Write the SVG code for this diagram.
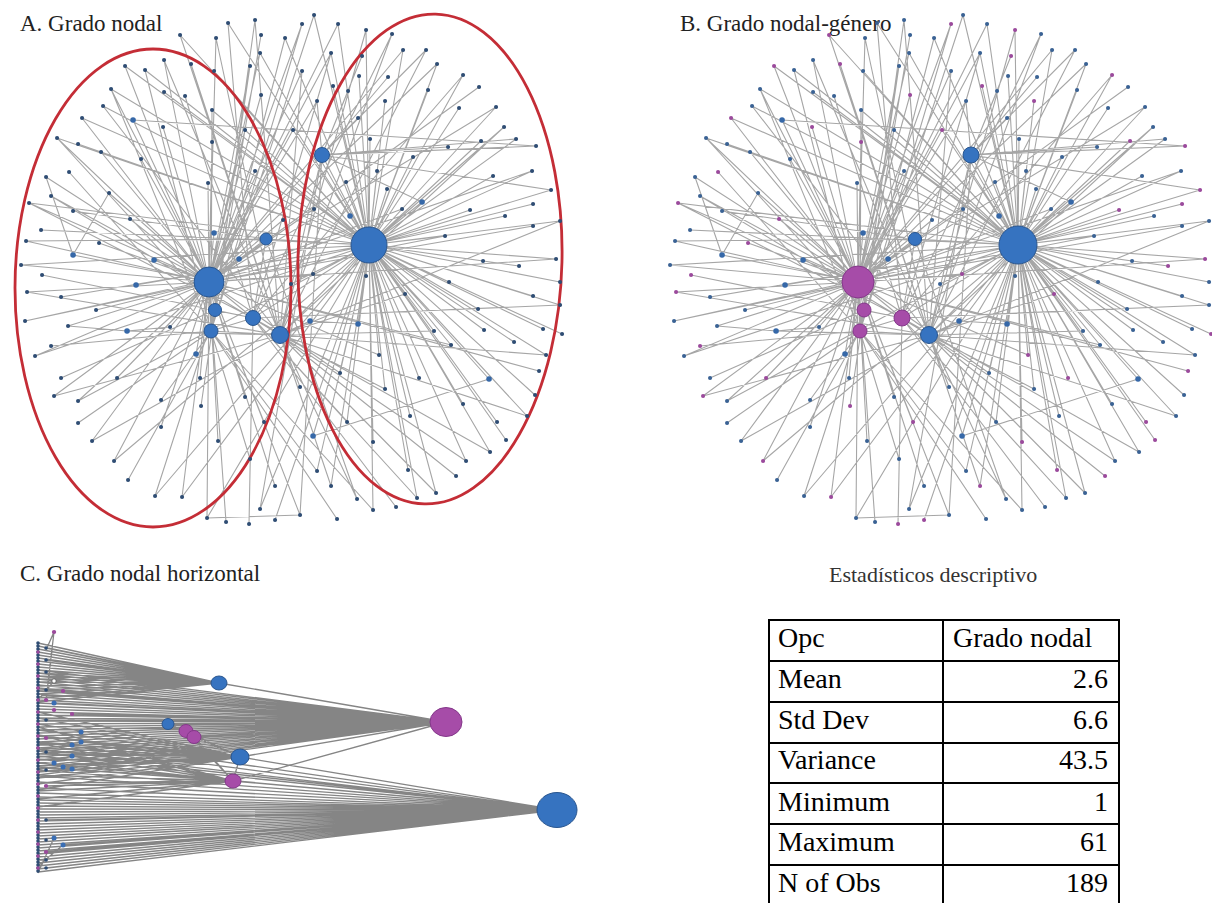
<svg xmlns="http://www.w3.org/2000/svg" width="1212" height="903" viewBox="0 0 1212 903">
<style>
.ttl{font-family:"Liberation Serif","Times New Roman",serif;font-size:23px;fill:#222}
.tbl{font-family:"Liberation Serif","Times New Roman",serif;font-size:28px;fill:#000}
.ea{stroke:#a6a6a6;stroke-width:1.1;fill:none}
.ec{stroke:#858585;stroke-width:1.3;fill:none}
.dot{fill:none;stroke-linecap:round}
.hb{fill:#3673c0;stroke:#2a568f;stroke-width:1}
.hp{fill:#a64ca8;stroke:#84388a;stroke-width:1}
.ring{fill:none;stroke:#c42d36;stroke-width:2.8}
.grid{stroke:#000;stroke-width:2;fill:none}
</style>
<defs>
<path id="edgesA" d="M228 23L369 245M314 15L369 245M338 24L369 245M180 35L369 245M285 38L369 245M366 30L369 245M331 53L369 245M403 50L369 245M437 64L369 245M463 75L369 245M496 107L369 245M504 127L369 245M516 139L369 245M532 171L369 245M551 190L369 245M560 221L369 245M556 259L369 245M560 282L369 245M560 305L369 245M562 334L369 245M543 329L369 245M546 355L369 245M535 395L369 245M527 416L369 245M506 440L369 245M490 452L369 245M466 461L369 245M436 493L369 245M417 498L369 245M408 470L369 245M373 510L369 245M373 442L369 245M331 486L369 245M317 471L369 245M313 436L369 245M275 520L369 245M260 509L369 245M61 297L369 245M41 230L369 245M78 144L369 245M214 71L369 245M164 92L369 245M136 285L369 245M293 130L369 245M291 284L369 245M358 324L369 245M340 373L369 245M347 422L369 245M379 355L369 245M385 389L369 245M410 416L369 245M419 378L369 245M451 345L369 245M489 379L369 245M478 309L369 245M463 404L369 245M497 422L369 245M514 342L369 245M484 330L369 245M434 331L369 245M405 294L369 245M449 282L369 245M483 261L369 245M519 266L369 245M533 296L369 245M445 236L369 245M470 210L369 245M422 202L369 245M402 209L369 245M350 216L369 245M366 276L369 245M346 182L369 245M387 189L369 245M413 157L369 245M481 141L369 245M493 176L369 245M505 216L369 245M533 204L369 245M377 171L369 245M370 139L369 245M385 101L369 245M428 90L369 245M459 108L369 245M333 86L369 245M359 76L369 245M35 356L369 245M82 118L369 245M260 53L369 245
M302 24L209 282M479 87L209 282M533 226L209 282M539 371L209 282M300 515L209 282M275 486L209 282M226 522L209 282M207 518L209 282M182 497L209 282M114 461L209 282M92 441L209 282M78 401L209 282M54 396L209 282M35 356L209 282M25 321L209 282M68 326L209 282M27 292L209 282M21 265L209 282M26 241L209 282M29 203L209 282M51 196L209 282M46 177L209 282M57 138L209 282M82 118L209 282M111 89L209 282M125 66L209 282M164 60L209 282M133 120L209 282M163 127L209 282M141 159L209 282M101 152L209 282M73 255L209 282M99 243L209 282M109 193L209 282M130 219L209 282M154 260L209 282M96 310L209 282M170 327L209 282M196 354L209 282M117 378L209 282M161 427L209 282M218 441L209 282M264 422L209 282M245 397L209 282M200 378L209 282M214 233L209 282M239 259L209 282M208 183L209 282M212 142L209 282M245 130L209 282M255 171L209 282M261 95L209 282M250 66L209 282M283 220L209 282M314 209L209 282M313 274L209 282M260 53L209 282M216 38L209 282M331 53L209 282
M362 56L322 155M426 50L322 155M536 146L322 155M317 101L322 155M448 147L322 155M358 118L322 155M348 91L322 155M388 77L322 155
M73 211L266 239M26 241L266 239
M155 496L215 310M61 378L215 310M201 406L215 310M57 138L215 310M255 20L215 310
M392 34L253 318M396 507L253 318M249 524L253 318M42 275L253 318M185 96L253 318M29 203L253 318
M261 35L211 331M337 519L211 331M128 480L211 331M78 423L211 331M51 346L211 331M69 172L211 331M145 70L211 331M161 400L211 331M250 459L211 331M212 110L211 331M111 89L211 331M302 24L211 331
M255 20L280 335M216 38L280 335M456 476L280 335M357 499L280 335M300 387L280 335M103 106L280 335M191 64L280 335M127 331L280 335M302 71L280 335M310 321L280 335M180 35L280 335M392 34L280 335
M228 23L253 318M314 15L211 331M338 24L209 282M366 30L280 335M285 38L215 310M331 53L253 318M403 50L209 282M437 64L209 282M426 50L280 335M463 75L253 318M496 107L209 282M504 127L280 335M532 171L209 282M560 221L280 335M556 259L209 282M560 305L253 318M546 355L280 335M527 416L280 335M551 190L322 155M516 139L322 155M490 452L253 318M466 461L280 335M436 493L280 335M417 498L253 318M373 510L211 331M331 486L280 335M317 471L211 331M207 518L369 245M182 497L369 245M155 496L369 245M114 461L369 245M92 441L280 335M78 401L369 245M54 396L280 335M25 321L369 245M27 292L280 335M21 265L369 245M29 203L369 245M57 138L369 245M51 196L280 335M125 66L369 245M145 70L369 245M164 60L280 335M111 89L369 245M103 106L369 245M245 130L369 245M212 110L369 245M261 95L280 335M250 66L211 331M302 71L209 282M317 101L209 282M293 130L209 282M402 209L209 282M422 202L322 155M445 236L209 282M405 294L280 335M434 331L280 335M451 345L209 282M379 355L209 282M385 389L280 335M340 373L209 282M347 422L253 318M300 515L322 155M260 509L322 155M357 499L266 239
M369 245L322 155M369 245L266 239M209 282L266 239M209 282L215 310M209 282L211 331M215 310L253 318M253 318L280 335M211 331L280 335M209 282L253 318M322 155L209 282M322 155L280 335M266 239L253 318M369 245L280 335M369 245L253 318M211 331L253 318
M133 120L536 146M46 177L73 255M73 255L109 193M68 326L127 331M127 331L170 327M310 321L358 324M313 436L489 379M207 518L300 515"/>
<path id="dotsP" d="M302 24h.1M180 35h.1M366 30h.1M362 56h.1M463 75h.1M536 146h.1M551 190h.1M556 259h.1M562 334h.1M539 371h.1M506 440h.1M456 476h.1M408 470h.1M373 442h.1M331 486h.1M275 520h.1M249 524h.1M182 497h.1M114 461h.1M54 396h.1M51 346h.1M27 292h.1M42 275h.1M29 203h.1M69 172h.1M82 118h.1M125 66h.1M191 64h.1M163 127h.1M99 243h.1M130 219h.1M117 378h.1M201 406h.1M264 422h.1M212 142h.1M261 95h.1M293 130h.1M313 274h.1M379 355h.1M419 378h.1M497 422h.1M405 294h.1M519 266h.1M470 210h.1M481 141h.1M533 204h.1M385 101h.1M333 86h.1"/>
<path id="dotsQ" d="M228 23h.1M255 20h.1M314 15h.1M338 24h.1M216 38h.1M261 35h.1M285 38h.1M392 34h.1M331 53h.1M403 50h.1M426 50h.1M437 64h.1M479 87h.1M496 107h.1M504 127h.1M516 139h.1M532 171h.1M560 221h.1M533 226h.1M560 282h.1M560 305h.1M543 329h.1M546 355h.1M535 395h.1M527 416h.1M490 452h.1M466 461h.1M436 493h.1M417 498h.1M396 507h.1M373 510h.1M357 499h.1M337 519h.1M317 471h.1M300 515h.1M300 387h.1M275 486h.1M260 509h.1M226 522h.1M207 518h.1M155 496h.1M128 480h.1M92 441h.1M78 423h.1M78 401h.1M61 378h.1M35 356h.1M25 321h.1M68 326h.1M61 297h.1M21 265h.1M26 241h.1M41 230h.1M51 196h.1M46 177h.1M57 138h.1M78 144h.1M103 106h.1M111 89h.1M145 70h.1M164 60h.1M214 71h.1M164 92h.1M141 159h.1M101 152h.1M109 193h.1M73 211h.1M96 310h.1M170 327h.1M161 400h.1M161 427h.1M218 441h.1M250 459h.1M245 397h.1M200 378h.1M208 183h.1M212 110h.1M185 96h.1M245 130h.1M255 171h.1M250 66h.1M302 71h.1M317 101h.1M283 220h.1M314 209h.1M291 284h.1M340 373h.1M347 422h.1M385 389h.1M410 416h.1M451 345h.1M478 309h.1M463 404h.1M514 342h.1M484 330h.1M434 331h.1M449 282h.1M483 261h.1M533 296h.1M445 236h.1M402 209h.1M366 276h.1M346 182h.1M387 189h.1M413 157h.1M448 147h.1M493 176h.1M505 216h.1M377 171h.1M370 139h.1M358 118h.1M428 90h.1M459 108h.1M348 91h.1M359 76h.1M388 77h.1M260 53h.1"/>
<path id="dotsM" d="M313 436h.1M133 120h.1M73 255h.1M154 260h.1M136 285h.1M127 331h.1M196 354h.1M214 233h.1M239 259h.1M310 321h.1M358 324h.1M489 379h.1M422 202h.1M350 216h.1"/>
</defs>

<rect width="1212" height="903" fill="#ffffff"/>

<!-- Titles -->
<text class="ttl" x="20" y="31">A. Grado nodal</text>
<text class="ttl" x="680" y="31">B. Grado nodal-género</text>
<text class="ttl" x="20" y="581">C. Grado nodal horizontal</text>
<text class="ttl" x="829" y="582" style="font-size:22px;fill:#333">Estadísticos descriptivo</text>

<!-- Connectors -->
<g id="connectors">
  <use href="#edgesA" class="ea"/>
  <use href="#edgesA" class="ea" transform="translate(649 0)"/>
  <path class="ec" d="M38 643L219 683M38 646L219 683M38 649L219 683M38 652L219 683M38 655L219 683M38 658L219 683M38 661L219 683M38 664L219 683M38 667L219 683M38 670L219 683M38 673L219 683M38 676L219 683M38 679L219 683M38 682L219 683M38 686L219 683M38 690L219 683M38 694L219 683M38 698L219 683M38 702L219 683M46 648L219 683M46 660L219 683
M38 670L446 722M38 673L446 722M38 676L446 722M38 679L446 722M38 682L446 722M38 685L446 722M38 688L446 722M38 691L446 722M38 694L446 722M38 697L446 722M38 700L446 722M38 703L446 722M38 706L446 722M38 709L446 722M38 712L446 722M38 715L446 722M38 718L446 722M38 721L446 722M38 724L446 722M38 727L446 722M38 730L446 722M38 733L446 722M38 736L446 722M38 739L446 722M38 742L446 722M38 745L446 722M38 748L446 722M38 751L446 722M38 754L446 722M38 757L446 722M38 760L446 722M38 763L446 722M38 766L446 722M38 769L446 722M38 772L446 722M38 775L446 722M38 778L446 722M63 691L446 722M72 714L446 722M81 732L446 722M168 724L446 722M54 703L446 722M46 690L446 722M46 720L446 722
M38 712L240 757M38 718L240 757M38 724L240 757M38 730L240 757M38 736L240 757M38 742L240 757M38 748L240 757M38 754L240 757M38 760L240 757M38 766L240 757M38 772L240 757M38 778L240 757M38 784L240 757M38 790L240 757M72 745L240 757M81 742L240 757M63 767L240 757M46 752L240 757
M38 727L233 781M38 735L233 781M38 743L233 781M38 751L233 781M38 759L233 781M38 767L233 781M38 775L233 781M38 783L233 781M38 791L233 781M38 799L233 781M38 807L233 781M72 769L233 781M72 756L233 781M46 786L233 781
M38 735L557 810M38 742L557 810M38 749L557 810M38 756L557 810M38 763L557 810M38 770L557 810M38 776L557 810M38 782L557 810M38 788L557 810M38 793L557 810M38 797L557 810M38 800L557 810M38 803L557 810M38 806L557 810M38 809L557 810M38 812L557 810M38 815L557 810M38 818L557 810M38 821L557 810M38 824L557 810M38 827L557 810M38 830L557 810M38 833L557 810M38 836L557 810M38 839L557 810M38 842L557 810M38 845L557 810M38 848L557 810M38 851L557 810M38 854L557 810M38 857L557 810M38 860L557 810M38 863L557 810M38 866L557 810M38 869L557 810M38 872L557 810M54 838L557 810M63 845L557 810M46 820L557 810M46 852L557 810M46 868L557 810M72 756L557 810
M219 683L446 722M240 757L557 810M233 781L446 722M240 757L446 722M233 781L557 810M186 731L233 781M194 737L233 781M194 737L240 757M240 757L233 781M168 724L186 731M186 731L240 757M194 737L446 722M54 632L46 650M54 632L46 700M54 681L38 700M38 873L54 838M38 866L63 845"/>
</g>

<!-- Panel A: grouping rings -->
<g id="rings">
  <ellipse class="ring" cx="153" cy="288" rx="138" ry="239"/>
  <ellipse class="ring" cx="430" cy="259" rx="132" ry="245" transform="rotate(1.3 430 259)"/>
</g>

<!-- Panel A peripheral nodes -->
<g id="nodes-A-small">
  <use href="#dotsP" class="dot" stroke="#2f4d74" stroke-width="4"/>
  <use href="#dotsQ" class="dot" stroke="#2f4d74" stroke-width="4"/>
  <use href="#dotsM" class="dot" stroke="#3668a8" stroke-width="5.5"/>
</g>

<!-- Panel B peripheral nodes -->
<g id="nodes-B-small" transform="translate(649 0)">
  <use href="#dotsP" class="dot" stroke="#9b4a9c" stroke-width="4"/>
  <use href="#dotsQ" class="dot" stroke="#3a6294" stroke-width="4"/>
  <use href="#dotsM" class="dot" stroke="#3668a8" stroke-width="5.5"/>
</g>

<!-- Panel A hubs -->
<g id="hubA1"><circle class="hb" cx="369" cy="245" r="18"/></g>
<g id="hubA2"><circle class="hb" cx="209" cy="282" r="15"/></g>
<g id="hubA3"><circle class="hb" cx="322" cy="155" r="7.5"/></g>
<g id="hubA4"><circle class="hb" cx="266" cy="239" r="6"/></g>
<g id="hubA5"><circle class="hb" cx="215" cy="310" r="6.5"/></g>
<g id="hubA6"><circle class="hb" cx="253" cy="318" r="7.5"/></g>
<g id="hubA7"><circle class="hb" cx="211" cy="331" r="7"/></g>
<g id="hubA8"><circle class="hb" cx="280" cy="335" r="8.5"/></g>

<!-- Panel B hubs -->
<g id="hubB1"><circle class="hb" cx="1018" cy="245" r="19"/></g>
<g id="hubB2"><circle class="hp" cx="858" cy="282" r="16"/></g>
<g id="hubB3"><circle class="hb" cx="971" cy="155" r="8"/></g>
<g id="hubB4"><circle class="hb" cx="915" cy="239" r="6.5"/></g>
<g id="hubB5"><circle class="hp" cx="864" cy="310" r="7"/></g>
<g id="hubB6"><circle class="hp" cx="902" cy="318" r="8"/></g>
<g id="hubB7"><circle class="hp" cx="860" cy="331" r="7"/></g>
<g id="hubB8"><circle class="hb" cx="929" cy="335" r="8.5"/></g>

<!-- Panel C nodes -->
<g id="nodes-C-small">
  <path class="dot" d="M38 643V874" stroke="#2f4d74" stroke-width="3.6" stroke-dasharray="0.1 2.9"/>
  <path class="dot" d="M38 652V870" stroke="#9b4a9c" stroke-width="3.6" stroke-dasharray="0.1 11.9"/>
  <path class="dot" stroke="#2f4d74" stroke-width="3.6" d="M46 648h.1M46 660h.1M46 672h.1M46 690h.1M46 720h.1M46 752h.1M46 770h.1M46 820h.1M46 840h.1M46 860h.1M46 868h.1"/>
  <path class="dot" stroke="#9b4a9c" stroke-width="4.2" d="M54 632h.1M63 691h.1M72 714h.1M46 700h.1M46 738h.1M46 786h.1M46 852h.1M54 710h.1"/>
  <path class="dot" stroke="#3a6eb4" stroke-width="5" d="M81 732h.1M81 742h.1M72 745h.1M72 756h.1M63 767h.1M72 769h.1M54 763h.1M54 838h.1M63 845h.1M54 703h.1"/>
  <circle cx="54" cy="681" r="2.2" fill="#fff" stroke="#555" stroke-width="0.8"/>
</g>
<g id="hubC1"><ellipse class="hb" cx="219" cy="683" rx="8" ry="7"/></g>
<g id="hubC2"><ellipse class="hp" cx="446" cy="722" rx="16" ry="14.5"/></g>
<g id="hubC3"><ellipse class="hb" cx="168" cy="724" rx="6" ry="5.5"/></g>
<g id="hubC4"><ellipse class="hp" cx="186" cy="731" rx="7" ry="6.5"/></g>
<g id="hubC5"><ellipse class="hp" cx="194" cy="737" rx="7" ry="6.5"/></g>
<g id="hubC6"><ellipse class="hb" cx="240" cy="757" rx="9" ry="8"/></g>
<g id="hubC7"><ellipse class="hp" cx="233" cy="781" rx="8" ry="7"/></g>
<g id="hubC8"><ellipse class="hb" cx="557" cy="810" rx="20" ry="17.5"/></g>

<!-- Table -->
<g id="table">
  <rect class="grid" x="769" y="620" width="350" height="286"/>
  <path class="grid" d="M943 620V906M769 661H1119M769 702H1119M769 743H1119M769 783H1119M769 824H1119M769 865H1119"/>
  <text class="tbl" x="778" y="647">Opc</text>
  <text class="tbl" x="953" y="647">Grado nodal</text>
  <text class="tbl" x="778" y="688">Mean</text>
  <text class="tbl" x="1108" y="688" text-anchor="end">2.6</text>
  <text class="tbl" x="778" y="729">Std Dev</text>
  <text class="tbl" x="1108" y="729" text-anchor="end">6.6</text>
  <text class="tbl" x="778" y="769">Variance</text>
  <text class="tbl" x="1108" y="769" text-anchor="end">43.5</text>
  <text class="tbl" x="778" y="811">Minimum</text>
  <text class="tbl" x="1108" y="811" text-anchor="end">1</text>
  <text class="tbl" x="778" y="851">Maximum</text>
  <text class="tbl" x="1108" y="851" text-anchor="end">61</text>
  <text class="tbl" x="778" y="892">N of Obs</text>
  <text class="tbl" x="1108" y="892" text-anchor="end">189</text>
</g>
</svg>
